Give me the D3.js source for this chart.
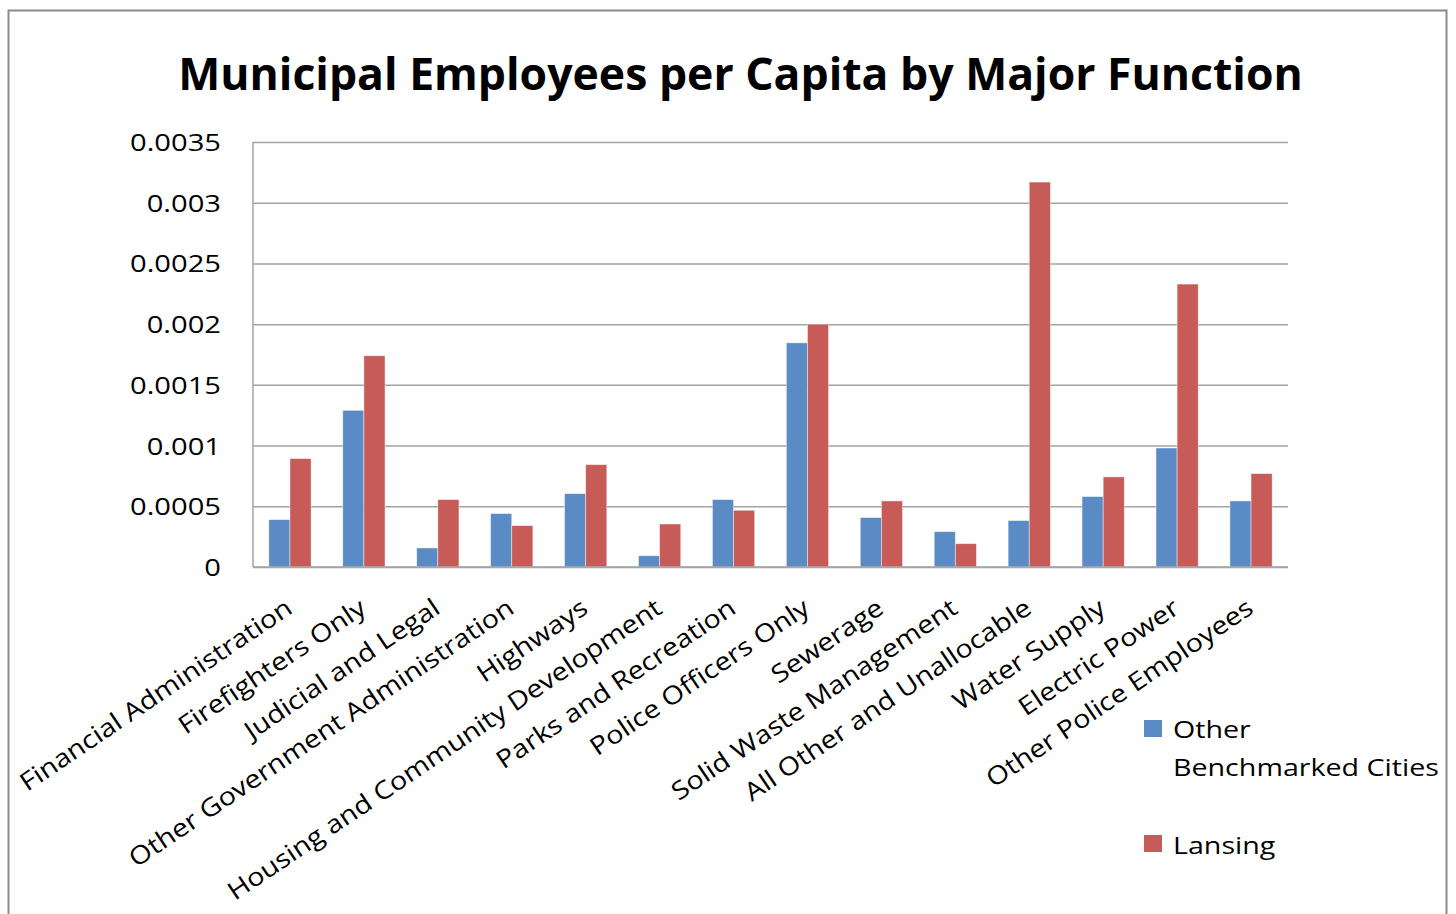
<!DOCTYPE html>
<html>
<head>
<meta charset="utf-8">
<script src="https://cdn.jsdelivr.net/npm/d3@7"></script>
<style>
  html, body { margin: 0; padding: 0; background: #fff; }
  svg { display: block; }
  text { font-family: "Open Sans", "DejaVu Sans", sans-serif; fill: #000; }
</style>
</head>
<body>
<script>
// ---- Data ----
const categories = [
  "Financial Administration",
  "Firefighters Only",
  "Judicial and Legal",
  "Other Government Administration",
  "Highways",
  "Housing and Community Development",
  "Parks and Recreation",
  "Police Officers Only",
  "Sewerage",
  "Solid Waste Management",
  "All Other and Unallocable",
  "Water Supply",
  "Electric Power",
  "Other Police Employees"
];
const seriesNames = ["Other Benchmarked Cities", "Lansing"];
const otherCities = [0.00039, 0.00129, 0.000157, 0.00044, 0.000604, 0.000093, 0.000555, 0.001846, 0.000407, 0.000291, 0.000382, 0.00058, 0.00098, 0.000544];
const lansing     = [0.000893, 0.00174, 0.000555, 0.000341, 0.000843, 0.000354, 0.000467, 0.002, 0.000544, 0.000192, 0.00317, 0.000742, 0.00233, 0.000769];
const yTicks = [0, 0.0005, 0.001, 0.0015, 0.002, 0.0025, 0.003, 0.0035];
const yTickLabels = ["0", "0.0005", "0.001", "0.0015", "0.002", "0.0025", "0.003", "0.0035"];
const title = "Municipal Employees per Capita by Major Function";
const colors = ["#5b8bc5", "#c65b58"];

// ---- Layout ----
const W = 1456, H = 914;
const plot = { left: 253, right: 1288, top: 142, bottom: 567 };

const svg = d3.select("body").append("svg").attr("width", W).attr("height", H);

// outer chart border
svg.append("rect")
  .attr("x", 8.5).attr("y", 10.5).attr("width", 1438).attr("height", 930)
  .attr("fill", "none").attr("stroke", "#8a8a8a").attr("stroke-width", 2);

// title
const t = svg.append("text")
  .attr("text-anchor", "middle")
  .style("font-weight", "bold").style("font-size", "45px")
  .text(title);
{
  const w = t.node().getComputedTextLength();
  const sx = 1125 / w;
  t.attr("transform", `translate(740.5,90) scale(${sx},1)`);
}

// scales
const x0 = d3.scaleBand().domain(categories)
  .range([plot.left, plot.right])
  .paddingInner(1.5 / 3.5).paddingOuter(0.75 / 3.5);
const x1 = d3.scaleBand().domain(seriesNames).range([0, x0.bandwidth()]);
const y = d3.scaleLinear().domain([0, 0.0035]).range([plot.bottom, plot.top]);

// gridlines
const grid = svg.append("g").attr("transform", `translate(${plot.left},0)`)
  .call(d3.axisLeft(y).tickValues(yTicks).tickSize(-(plot.right - plot.left)).tickFormat(""));
grid.select(".domain").remove();
grid.selectAll(".tick line").attr("stroke", "#a3a3a3").attr("stroke-width", 1.5);

// y axis line
svg.append("line")
  .attr("x1", plot.left).attr("x2", plot.left)
  .attr("y1", y(0.0035)).attr("y2", y(0))
  .attr("stroke", "#a3a3a3").attr("stroke-width", 1.5);

// y tick labels
const yl = svg.append("g").attr("transform", `translate(221,0)`)
  .call(d3.axisLeft(y).tickValues(yTicks).tickSize(0).tickPadding(0)
    .tickFormat((d, i) => yTickLabels[i]));
yl.select(".domain").remove();
yl.selectAll(".tick text")
  .style("font-size", "23.5px").style("font-family", "'Open Sans', sans-serif")
  .attr("fill", "#000").attr("x", 0).attr("dy", "0.36em");
{
  const ref = yl.selectAll(".tick text").filter((d, i) => i === yTicks.length - 1).node();
  const sx = 91 / ref.getComputedTextLength();
  yl.selectAll(".tick text").attr("transform", `scale(${sx},1)`);
}

// bars
const groups = svg.append("g").selectAll("g")
  .data(categories)
  .join("g")
  .attr("transform", d => `translate(${x0(d)},0)`);
groups.selectAll("rect")
  .data((d, i) => [
    { s: seriesNames[0], v: otherCities[i] },
    { s: seriesNames[1], v: lansing[i] }
  ])
  .join("rect")
  .attr("x", d => x1(d.s))
  .attr("width", x1.bandwidth())
  .attr("y", d => y(d.v))
  .attr("height", d => y(0) - y(d.v))
  .attr("fill", (d, j) => colors[j])
  .attr("stroke", "rgba(255,255,255,0.55)").attr("stroke-width", 0.8);

// x axis baseline
svg.append("line")
  .attr("x1", plot.left).attr("x2", plot.right)
  .attr("y1", y(0)).attr("y2", y(0))
  .attr("stroke", "#a3a3a3").attr("stroke-width", 1.5);

// category labels (rotated)
const xl = svg.append("g").selectAll("text")
  .data(categories)
  .join("text")
  .attr("text-anchor", "end")
  .style("font-size", "25px")
  .text(d => d);
{
  const wref = xl.filter((d, i) => i === 0).node().getComputedTextLength();
  const s = 322 / wref;
  xl.attr("transform", d => {
    const cx = x0(d) + x0.bandwidth() / 2;
    return `translate(${cx + 4},612) rotate(-34) scale(${s},1)`;
  });
}

// legend
const leg = svg.append("g");
leg.append("rect").attr("x", 1144).attr("y", 720).attr("width", 18).attr("height", 17).attr("fill", colors[0]);
leg.append("rect").attr("x", 1144).attr("y", 835).attr("width", 18).attr("height", 17).attr("fill", colors[1]);
const legTexts = [
  { t: "Other", y: 738 },
  { t: "Benchmarked Cities", y: 776 },
  { t: "Lansing", y: 854 }
];
const lt = leg.selectAll("text").data(legTexts).join("text")
  .style("font-size", "23.5px")
  .text(d => d.t);
{
  const wref = lt.filter((d, i) => i === 1).node().getComputedTextLength();
  const sx = 266 / wref;
  lt.attr("transform", d => `translate(1173,${d.y}) scale(${sx},1)`);
}
</script>
</body>
</html>
